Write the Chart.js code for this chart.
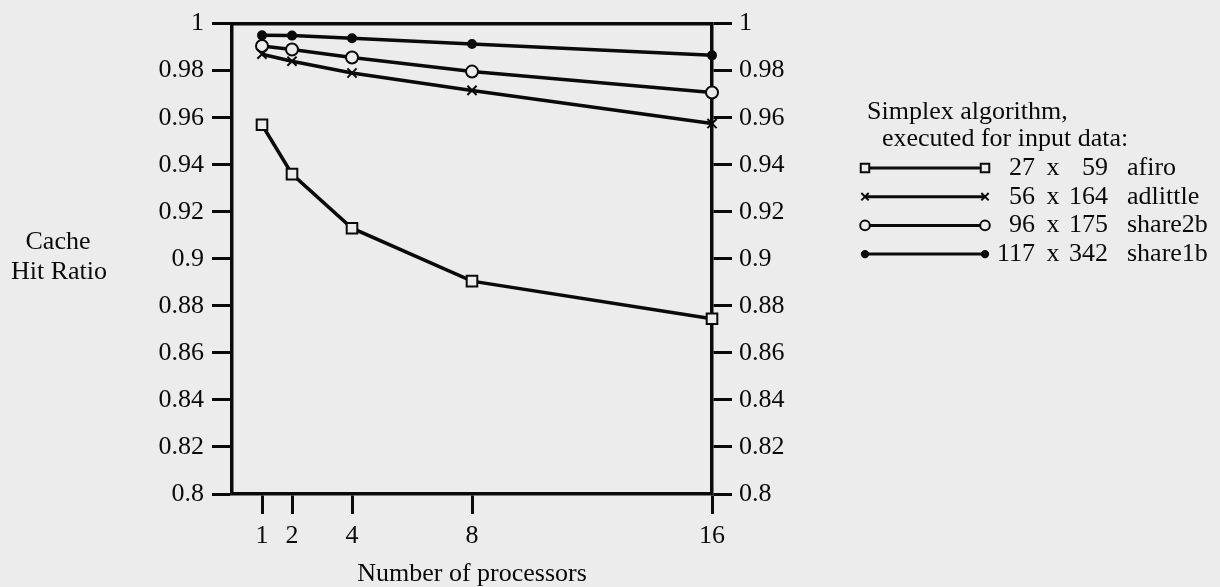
<!DOCTYPE html>
<html>
<head>
<meta charset="utf-8">
<title>Cache Hit Ratio</title>
<script src="https://cdn.jsdelivr.net/npm/chart.js@4.4.0/dist/chart.umd.min.js"></script>
<style>
  html, body { margin: 0; padding: 0; background: #ececec; }
  canvas { display: block; }
</style>
</head>
<body>
<canvas id="hit-chart" width="1220" height="587"></canvas>
<script>
// Values
const processors = [1, 2, 4, 8, 16];
const xTicks = [1, 2, 4, 8, 16];
const afiro    = [0.957, 0.936, 0.913, 0.8905, 0.8745];
const adlittle = [0.987, 0.984, 0.979, 0.9716, 0.9575];
const share2b  = [0.9905, 0.989, 0.9856, 0.9796, 0.9707];
const share1b  = [0.995, 0.9949, 0.9938, 0.9913, 0.9865];

const seriesNames = ['afiro', 'adlittle', 'share2b', 'share1b'];
const matrixRows = ['27', '56', '96', '117'];
const matrixCols = ['59', '164', '175', '342'];
const legendTitle = ['Simplex algorithm,', 'executed for input data:'];
const yTitle = ['Cache', 'Hit Ratio'];
const xTitle = 'Number of processors';

const ink = '#0a0a0a';
const paper = '#ececec';
const serif = '"Liberation Serif", "Times New Roman", serif';

function makeSeries(label, values, style, radius, filled) {
    return {
        label: label,
        data: processors.map((p, i) => ({x: p, y: values[i]})),
        borderColor: ink,
        borderWidth: 3.5,
        pointStyle: style,
        pointRadius: radius,
        pointBorderWidth: 2,
        pointBorderColor: ink,
        pointBackgroundColor: filled ? ink : paper,
        tension: 0,
        clip: false
    };
}

// Horizontal y-axis title on the left
const yTitlePlugin = {
    id: 'yTitle',
    afterDraw(chart) {
        const ctx = chart.ctx;
        ctx.save();
        ctx.font = '26px ' + serif;
        ctx.fillStyle = ink;
        ctx.textAlign = 'center';
        ctx.textBaseline = 'middle';
        ctx.fillText(yTitle[0], 58, 242);
        ctx.fillText(yTitle[1], 59, 272);
        ctx.restore();
    }
};

// Legend on the right: line with a marker at each end, then the matrix size
const sideLegend = {
    id: 'sideLegend',
    afterDraw(chart) {
        const ctx = chart.ctx;
        ctx.save();
        ctx.font = '26px ' + serif;
        ctx.fillStyle = ink;
        ctx.textBaseline = 'middle';
        ctx.textAlign = 'left';
        ctx.fillText(legendTitle[0], 867, 112);
        ctx.fillText(legendTitle[1], 882, 139);

        chart.data.datasets.forEach((ds, i) => {
            const y = 168 + i * 28.7;
            ctx.strokeStyle = ink;
            ctx.lineWidth = 3;
            ctx.beginPath();
            ctx.moveTo(865, y);
            ctx.lineTo(985, y);
            ctx.stroke();
            [865, 985].forEach(px => {
                ctx.fillStyle = ds.pointBackgroundColor;
                ctx.strokeStyle = ink;
                ctx.lineWidth = 2;
                Chart.helpers.drawPoint(ctx, {
                    pointStyle: ds.pointStyle,
                    radius: ds.pointRadius * 0.8,
                    borderWidth: 2,
                    rotation: 0
                }, px, y);
            });
            ctx.fillStyle = ink;
            ctx.textAlign = 'right';
            ctx.fillText(matrixRows[i], 1035, y);
            ctx.textAlign = 'center';
            ctx.fillText('x', 1053, y);
            ctx.textAlign = 'right';
            ctx.fillText(matrixCols[i], 1108, y);
            ctx.textAlign = 'left';
            ctx.fillText(seriesNames[i], 1127, y);
        });
        ctx.restore();
    }
};

const tickFont = {family: serif, size: 26};
const yTickFmt = v => String(+v.toFixed(2));

function yAxis(position, width, pad) {
    return {
        type: 'linear',
        position: position,
        min: 0.8,
        max: 1,
        ticks: {stepSize: 0.02, color: ink, font: tickFont, padding: pad, callback: yTickFmt},
        grid: {drawOnChartArea: false, drawTicks: true, tickLength: 20, tickWidth: 3, tickColor: ink},
        border: {display: true, color: ink, width: 3.5},
        afterFit: scale => { scale.width = width; }
    };
}

const ctx = document.getElementById('hit-chart').getContext('2d');
new Chart(ctx, {
    type: 'line',
    data: {
        datasets: [
            makeSeries(seriesNames[0], afiro, 'rect', 7.5, false),
            makeSeries(seriesNames[1], adlittle, 'crossRot', 6.5, false),
            makeSeries(seriesNames[2], share2b, 'circle', 6, false),
            makeSeries(seriesNames[3], share1b, 'circle', 4, true)
        ]
    },
    options: {
        responsive: false,
        animation: false,
        devicePixelRatio: 1,
        layout: {padding: {top: 21, bottom: 0, left: 0, right: 0}},
        plugins: {
            legend: {display: false},
            tooltip: {enabled: false}
        },
        scales: {
            x: {
                type: 'linear',
                position: 'bottom',
                min: 0,
                max: 16,
                afterBuildTicks: axis => { axis.ticks = xTicks.map(v => ({value: v})); },
                ticks: {color: ink, font: tickFont, padding: 7, maxRotation: 0, autoSkip: false},
                grid: {drawOnChartArea: false, drawTicks: true, tickLength: 20, tickWidth: 3, tickColor: ink},
                border: {display: true, color: ink, width: 3.5},
                title: {display: true, text: xTitle, color: ink,
                        font: {family: serif, size: 26, lineHeight: 1}, padding: {top: 0, bottom: 0}},
                afterFit: scale => { scale.height = 93; }
            },
            xTop: {
                type: 'linear',
                position: 'top',
                min: 0,
                max: 16,
                ticks: {display: false},
                grid: {display: false, drawOnChartArea: false, drawTicks: false},
                border: {display: true, color: ink, width: 3.5},
                afterFit: scale => { scale.height = 0; }
            },
            y: yAxis('left', 232, 8),
            y2: yAxis('right', 1220 - 712, 7)
        }
    },
    plugins: [yTitlePlugin, sideLegend]
});
</script>
</body>
</html>
